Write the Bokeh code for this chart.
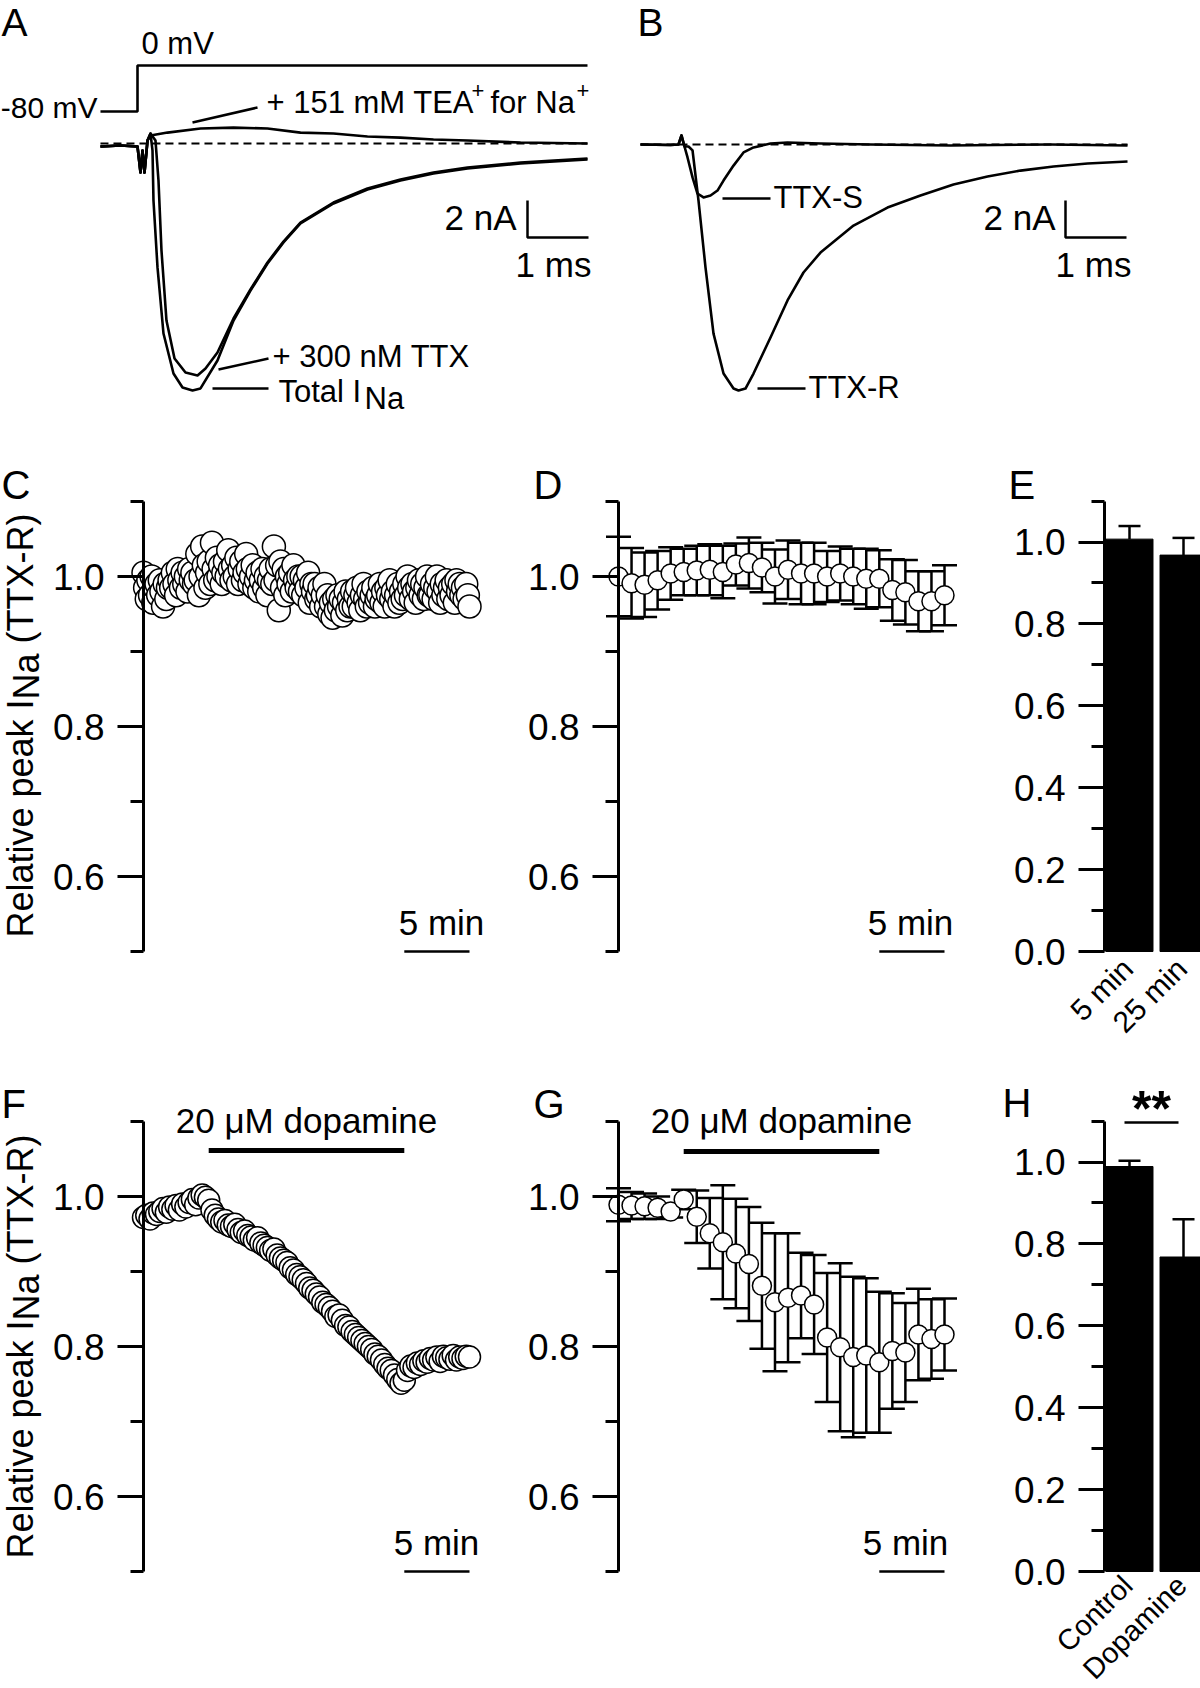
import numpy as np
from math import pi, sin, cos
from bokeh.plotting import figure
from bokeh.models import (Range1d, FixedTicker, Label, Whisker, TeeHead, LinearAxis,
                          ColumnDataSource, PrintfTickFormatter)
from bokeh.layouts import row, column
from bokeh.embed import file_html
from bokeh.resources import INLINE

FONT = "Liberation Sans"

# ---------------- data ----------------
# Panel A: currents (nA) vs time (ms) after the step to 0 mV
artifact_t = [-0.607, -0.279, 0.0, 0.049, 0.082, 0.115, 0.164]
artifact_i = [-0.16, -0.11, -0.16, -1.57, -0.38, -1.57, 0.16]
total_t = [0.213, 0.246, 0.262, 0.328, 0.426, 0.590, 0.738, 0.902, 1.033, 1.311, 1.574,
           1.852, 2.131, 2.393, 2.672, 3.213, 3.770, 4.311, 4.852, 5.410, 6.279, 7.377]
total_i = [0.54, -0.38, -3.08, -6.70, -10.27, -12.43, -13.19, -13.35, -13.24, -11.73, -9.57,
           -7.95, -6.49, -5.35, -4.32, -3.24, -2.49, -2.00, -1.62, -1.35, -1.08, -0.86]
ttx_t = [0.213, 0.295, 0.344, 0.393, 0.475, 0.607, 0.787, 0.984, 1.115, 1.311, 1.574,
         1.852, 2.131, 2.393, 2.672, 3.213, 3.770, 4.311, 4.852, 5.410, 6.279, 7.377]
ttx_i = [0.54, 0.16, -2.00, -5.78, -9.57, -11.62, -12.38, -12.54, -12.16, -11.30, -9.46,
         -7.89, -6.43, -5.30, -4.27, -3.19, -2.43, -1.95, -1.57, -1.30, -1.03, -0.81]
tea_t = [0.213, 0.492, 1.033, 1.574, 2.131, 2.672, 3.213, 3.770, 4.311, 4.852, 5.410, 6.279, 7.377]
tea_i = [0.43, 0.59, 0.81, 0.86, 0.81, 0.59, 0.54, 0.38, 0.32, 0.22, 0.16, 0.05, 0.0]
step_t = [-0.607, 0.0, 0.0, 7.377]
step_mv = [-80, -80, 0, 0]

# Panel B: TTX-S and TTX-R components
b_start_t = [-0.623, -0.131, 0.0, 0.049, 0.098]
b_start_i = [0.0, -0.03, 0.0, 0.49, -0.11]
ttxs_t = [0.148, 0.230, 0.311, 0.410, 0.525, 0.639, 0.738, 0.902, 1.066, 1.230, 1.508,
          1.787, 2.328, 3.148, 4.459, 6.098, 7.361]
ttxs_i = [-0.70, -1.78, -2.65, -2.86, -2.76, -2.49, -1.95, -1.14, -0.43, -0.16, 0.05,
          0.11, 0.05, 0.0, -0.05, 0.0, -0.05]
ttxr_t = [0.164, 0.230, 0.328, 0.443, 0.574, 0.738, 0.902, 0.984, 1.098, 1.230, 1.508,
          1.787, 2.049, 2.328, 2.869, 3.426, 3.967, 4.508, 5.066, 5.607, 6.148, 6.705, 7.361]
ttxr_i = [-0.11, -0.32, -3.03, -6.65, -10.22, -12.38, -13.19, -13.30, -13.19, -12.38, -10.43,
          -8.43, -6.92, -5.84, -4.38, -3.41, -2.76, -2.16, -1.73, -1.41, -1.19, -1.03, -0.92]

# Panel C: single cell, relative peak INa every 7.5 s
c_time = np.arange(201) * 0.125
c_rel = [1.005, 0.985, 0.970, 0.995, 0.975, 1.000, 0.965, 0.985,
         0.990, 0.975, 0.995, 0.980, 0.960, 0.990, 0.970, 0.985,
         0.995, 0.985, 1.005, 0.990, 0.975, 1.010, 0.995, 0.985,
         1.005, 0.990, 1.000, 0.980, 1.010, 0.995, 1.005, 0.990,
         0.995, 1.030, 0.975, 1.000, 1.040, 1.015, 0.985, 1.005,
         1.020, 0.990, 1.045, 1.010, 0.995, 1.025, 1.000, 1.015,
         0.990, 1.005, 1.020, 1.000, 1.035, 1.010, 0.995, 1.015,
         1.000, 1.025, 0.990, 1.010, 1.020, 0.995, 1.005, 1.030,
         1.010, 0.990, 1.000, 1.015, 0.985, 0.995, 1.005, 0.980,
         0.995, 1.010, 0.985, 1.000, 0.975, 0.995, 1.010, 0.990,
         1.040, 0.995, 1.015, 0.955, 1.020, 0.985, 1.010, 0.975,
         1.000, 0.990, 1.005, 0.980, 1.015, 0.995, 0.985, 1.000,
         0.980, 1.000, 0.975, 0.995, 0.985, 1.005, 0.965, 0.990,
         0.980, 0.990, 0.970, 0.975, 0.985, 0.960, 0.975, 0.990,
         0.960, 0.975, 0.950, 0.965, 0.945, 0.970, 0.955, 0.975,
         0.960, 0.970, 0.948, 0.965, 0.980, 0.955, 0.970, 0.960,
         0.980, 0.960, 0.975, 0.985, 0.965, 0.955, 0.975, 0.990,
         0.970, 0.960, 0.980, 0.965, 0.975, 0.985, 0.960, 0.970,
         0.975, 0.990, 0.965, 0.980, 0.960, 0.985, 0.975, 0.995,
         0.970, 0.980, 0.960, 0.975, 0.990, 0.965, 0.980, 0.970,
         0.990, 0.975, 1.000, 0.985, 0.970, 0.990, 0.980, 0.965,
         0.985, 0.995, 0.975, 0.990, 0.970, 0.985, 1.000, 0.975,
         0.975, 0.990, 0.970, 0.985, 1.000, 0.980, 0.965, 0.990,
         0.975, 0.985, 0.995, 0.970, 0.985, 0.975, 0.990, 0.965,
         0.995, 0.980, 0.990, 0.975, 0.985, 0.970, 0.990, 0.975,
         0.960]

# Panel D: mean +/- SEM every minute
d_time = list(range(26))
d_mean = [1.000, 0.991, 0.989, 0.995, 1.004, 1.006, 1.008, 1.009, 1.006, 1.016, 1.018, 1.012, 1.000,
          1.009, 1.004, 1.004, 1.000, 1.004, 1.000, 0.997, 0.997, 0.982, 0.979, 0.967, 0.967, 0.975]
d_sem = [0.053, 0.047, 0.043, 0.039, 0.035, 0.031, 0.033, 0.034, 0.035, 0.028, 0.034, 0.033, 0.036,
         0.039, 0.041, 0.041, 0.034, 0.036, 0.037, 0.040, 0.038, 0.041, 0.043, 0.040, 0.040, 0.040]

# Panel E
e_labels = ["5 min", "25 min"]
e_mean = [1.007, 0.968]
e_sem = [0.032, 0.042]

# Panel F: single cell with dopamine
f_time = np.arange(101) * 0.25
f_rel = [0.972, 0.975, 0.970, 0.978, 0.976,
         0.980, 0.984, 0.979, 0.986,
         0.983, 0.988, 0.982, 0.990,
         0.986, 0.992, 0.996, 0.989,
         0.998, 1.002, 0.999, 0.995,
         0.982, 0.975, 0.970, 0.966,
         0.968, 0.962, 0.960, 0.963,
         0.956, 0.952, 0.954, 0.948,
         0.946, 0.942, 0.945, 0.938,
         0.935, 0.932, 0.928, 0.930,
         0.922, 0.918, 0.915, 0.912,
         0.905, 0.902, 0.896, 0.893,
         0.889, 0.884, 0.878, 0.875,
         0.870, 0.866, 0.859, 0.856,
         0.852, 0.847, 0.840, 0.842,
         0.835, 0.828, 0.826, 0.820,
         0.816, 0.812, 0.808, 0.804,
         0.800, 0.796, 0.790, 0.787,
         0.782, 0.776, 0.771, 0.768,
         0.762, 0.756, 0.751, 0.755,
         0.768, 0.774, 0.772, 0.778,
         0.776, 0.781, 0.779, 0.784,
         0.782, 0.786, 0.780, 0.787,
         0.785, 0.783, 0.788, 0.782,
         0.786, 0.784, 0.787, 0.786]
dopamine_on = [5, 20]

# Panel G
g_time = list(range(26))
g_mean = [0.989, 0.988, 0.987, 0.985, 0.980, 0.996, 0.973, 0.951, 0.939, 0.924, 0.910, 0.881, 0.859,
          0.865, 0.868, 0.856, 0.812, 0.799, 0.786, 0.788, 0.779, 0.794, 0.792, 0.816, 0.810, 0.816]
g_sem = [0.022, 0.018, 0.017, 0.015, 0.008, 0.013, 0.035, 0.047, 0.076, 0.073, 0.076, 0.084, 0.092,
         0.086, 0.057, 0.066, 0.086, 0.112, 0.107, 0.103, 0.094, 0.077, 0.066, 0.061, 0.053, 0.048]

# Panel H
h_labels = ["Control", "Dopamine"]
h_mean = [0.989, 0.768]
h_sem = [0.014, 0.092]

RT_MAJ = [0.6, 0.8, 1.0]
RT_MIN = [0.5, 0.7, 0.9, 1.1]
BAR_MAJ = [0.0, 0.2, 0.4, 0.6, 0.8, 1.0]
BAR_MIN = [0.1, 0.3, 0.5, 0.7, 0.9, 1.1]

# ---------------- helpers ----------------
def mapper(rx0, ux0, sx, ry0, uy0, sy):
    return (lambda rx: ux0 + (rx - rx0) / sx), (lambda ry: uy0 + (ry0 - ry) / sy)


def make_fig(canvas, mx, my):
    cx0, cy0, cx1, cy1 = canvas
    p = figure(width=cx1 - cx0, height=cy1 - cy0, title=None,
               x_range=Range1d(mx(cx0), mx(cx1)), y_range=Range1d(my(cy1), my(cy0)),
               min_border_left=0, min_border_right=0, min_border_top=0, min_border_bottom=0,
               x_axis_type=None, y_axis_type=None,
               toolbar_location=None, tools="", output_backend="svg")
    p.outline_line_color = None
    p.background_fill_color = "white"
    p.border_fill_color = "white"
    p._mx, p._my = mx, my
    return p


def add_y(p, x_at, major, minor, lo, hi):
    ax = LinearAxis(fixed_location=x_at, ticker=FixedTicker(ticks=major, minor_ticks=minor),
                    bounds=(lo, hi), formatter=PrintfTickFormatter(format="%.1f"))
    ax.axis_line_width = 3
    ax.axis_line_color = "black"
    ax.major_tick_line_width = 3
    ax.minor_tick_line_width = 3
    ax.major_tick_line_color = "black"
    ax.minor_tick_line_color = "black"
    ax.major_tick_in = 0
    ax.major_tick_out = 26
    ax.minor_tick_in = 0
    ax.minor_tick_out = 13
    ax.major_label_standoff = 13
    ax.major_label_text_font = FONT
    ax.major_label_text_font_size = "37px"
    ax.major_label_text_color = "black"
    p.add_layout(ax, "left")


def tpx(p, rx, ry, s, size=30, align="left", angle=0.0, style="normal",
        baseline="alphabetic"):
    # rx, ry: pixel position in the page; baseline correction for the renderer
    if baseline == "alphabetic":
        d = 0.37 * size
        rx, ry = rx - d * sin(angle), ry - d * cos(angle)
    p.add_layout(Label(x=p._mx(rx), y=p._my(ry), text=s, text_font=FONT,
                       text_font_size=f"{size}px", text_align=align,
                       text_baseline=baseline, angle=angle,
                       text_font_style=style, text_color="black"))


def pline(p, pts, width=2.5):
    p.line([p._mx(a) for a, _ in pts], [p._my(b) for _, b in pts], line_width=width,
           line_color="black")


def ylabel(p, rcenter, size=36):
    w1 = 6.614 * size
    w2 = 1.278 * size
    w3 = 3.888 * size
    y0 = rcenter + (w1 + w2 + w3) / 2
    tpx(p, 33, y0, "Relative peak I", size, angle=pi / 2)
    tpx(p, 39, y0 - w1, "Na", size, angle=pi / 2)
    tpx(p, 33, y0 - w1 - w2 - 0.278 * size, "(TTX-R)", size, angle=pi / 2)


def trace(p, t, i):
    p.line(t, i, line_color="black", line_width=2.6, line_join="round")


def circles(p, t, v, size):
    p.scatter(t, v, marker="circle", size=size, fill_color="white", line_color="black",
              line_width=1.5)


def errs(p, t, m, s):
    src = ColumnDataSource(dict(t=t, lo=[a - b for a, b in zip(m, s)],
                                hi=[a + b for a, b in zip(m, s)]))
    p.add_layout(Whisker(source=src, base="t", upper="hi", lower="lo", line_width=2.5,
                         line_color="black", level="underlay",
                         upper_head=TeeHead(size=25, line_width=2.5, line_color="black"),
                         lower_head=TeeHead(size=25, line_width=2.5, line_color="black")))


def scalebar(p, y):
    p.line([20, 25], [y, y], line_color="black", line_width=2.5)


def bars(p, mean, sem):
    p.vbar(x=[1, 2], top=mean, width=0.87, fill_color="black", line_color="black")
    src = ColumnDataSource(dict(x=[1, 2], lo=mean, hi=[a + b for a, b in zip(mean, sem)]))
    p.add_layout(Whisker(source=src, base="x", upper="hi", lower="lo", line_width=2.5,
                         line_color="black", lower_head=None,
                         upper_head=TeeHead(size=22, line_width=2.5, line_color="black")))

# ---------------- Panel A ----------------
ax_, ay_ = mapper(137, 0, 61, 143, 0, 18.5)
vy_ = lambda ry: (65 - ry) / 0.575
pA = make_fig((0, 0, 600, 425), ax_, ay_)
pA.extra_y_ranges = {"mv": Range1d(vy_(425), vy_(0))}
pA.line(step_t, step_mv, y_range_name="mv", line_color="black", line_width=2.6)
pA.line([step_t[0], step_t[-1]], [0, 0], line_color="black", line_width=2, line_dash="8 5")
trace(pA, artifact_t + tea_t, artifact_i + tea_i)
trace(pA, artifact_t + ttx_t, artifact_i + ttx_i)
trace(pA, artifact_t + total_t, artifact_i + total_i)
tpx(pA, 1, 36, "A", 39)
tpx(pA, 141, 54, "0 mV", 31)
tpx(pA, 97, 118, "-80 mV", 30, align="right")
tpx(pA, 266, 113, "+ 151 mM TEA", 31)
tpx(pA, 471, 98, "+", 22)
tpx(pA, 490, 113, "for Na", 31)
tpx(pA, 576, 98, "+", 22)
pline(pA, [(192, 122), (257, 107)])
tpx(pA, 272, 367, "+ 300 nM TTX", 31)
pline(pA, [(218, 369), (268, 358)])
tpx(pA, 278, 402, "Total I", 31)
tpx(pA, 364, 409, "Na", 31)
pline(pA, [(212, 388), (268, 388)])
sbt, sbi = ax_(527), ay_(237)
pA.line([sbt, sbt, sbt + 1], [sbi + 2, sbi, sbi], line_color="black", line_width=2.5)
tpx(pA, 516, 230, "2 nA", 35, align="right")
tpx(pA, 553, 277, "1 ms", 35, align="center")

# ---------------- Panel B ----------------
bx_, by_ = mapper(678, 0, 61, 144, 0, 18.5)
pB = make_fig((600, 0, 1200, 425), bx_, by_)
pB.line([b_start_t[0], ttxr_t[-1]], [0, 0], line_color="black", line_width=2, line_dash="8 5")
trace(pB, b_start_t + ttxs_t, b_start_i + ttxs_i)
trace(pB, b_start_t + ttxr_t, b_start_i + ttxr_i)
tpx(pB, 637, 36, "B", 39)
tpx(pB, 773, 208, "TTX-S", 31)
pline(pB, [(722, 198), (770, 198)])
tpx(pB, 808, 398, "TTX-R", 31)
pline(pB, [(757, 388), (805, 388)])
sbt, sbi = bx_(1065), by_(237)
pB.line([sbt, sbt, sbt + 1], [sbi + 2, sbi, sbi], line_color="black", line_width=2.5)
tpx(pB, 1055, 230, "2 nA", 35, align="right")
tpx(pB, 1093, 277, "1 ms", 35, align="center")

# ---------------- Panel C ----------------
cx_, cy_ = mapper(143, 0, 13.04, 576, 1.0, 750)
pC = make_fig((0, 425, 500, 1040), cx_, cy_)
add_y(pC, 0, RT_MAJ, RT_MIN, 0.5, 1.1)
circles(pC, c_time, c_rel, 23)
scalebar(pC, 0.5)
tpx(pC, 441, 935, "5 min", 35, align="center")
tpx(pC, 1, 499, "C", 40)
ylabel(pC, 725)

# ---------------- Panel D ----------------
dx_, dy_ = mapper(618, 0, 13.04, 576, 1.0, 750)
pD = make_fig((500, 425, 985, 1040), dx_, dy_)
add_y(pD, 0, RT_MAJ, RT_MIN, 0.5, 1.1)
errs(pD, d_time, d_mean, d_sem)
circles(pD, d_time, d_mean, 19)
scalebar(pD, 0.5)
tpx(pD, 910, 935, "5 min", 35, align="center")
tpx(pD, 533, 499, "D", 40)

# ---------------- Panel E ----------------
ex_, ey_ = mapper(1129, 1, 54, 951, 0, 409.5)
pE = make_fig((985, 425, 1200, 1040), ex_, ey_)
add_y(pE, ex_(1104), BAR_MAJ, BAR_MIN, 0.0, 1.1)
bars(pE, e_mean, e_sem)
for k, lab in enumerate(e_labels):
    tpx(pE, 1127 + 54 * k, 963, lab, 30, align="right", baseline="middle", angle=pi / 4)
tpx(pE, 1008, 499, "E", 40)

# ---------------- Panel F ----------------
fx_, fy_ = mapper(143, 0, 13.04, 1196, 1.0, 750)
pF = make_fig((0, 1040, 500, 1686), fx_, fy_)
add_y(pF, 0, RT_MAJ, RT_MIN, 0.5, 1.1)
circles(pF, f_time, f_rel, 22)
pF.line(dopamine_on, [fy_(1150)] * 2, line_color="black", line_width=5)
tpx(pF, 143 + 13.04 * sum(dopamine_on) / 2, 1133, "20 \u03bcM dopamine", 35, align="center")
scalebar(pF, 0.5)
tpx(pF, 436, 1555, "5 min", 35, align="center")
tpx(pF, 1, 1118, "F", 40)
ylabel(pF, 1346)

# ---------------- Panel G ----------------
gx_, gy_ = mapper(618, 0, 13.04, 1196, 1.0, 750)
pG = make_fig((500, 1040, 985, 1686), gx_, gy_)
add_y(pG, 0, RT_MAJ, RT_MIN, 0.5, 1.1)
errs(pG, g_time, g_mean, g_sem)
circles(pG, g_time, g_mean, 19)
pG.line(dopamine_on, [gy_(1151)] * 2, line_color="black", line_width=5)
tpx(pG, 618 + 13.04 * sum(dopamine_on) / 2, 1133, "20 \u03bcM dopamine", 35, align="center")
scalebar(pG, 0.5)
tpx(pG, 905, 1555, "5 min", 35, align="center")
tpx(pG, 533, 1118, "G", 40)

# ---------------- Panel H ----------------
hx_, hy_ = mapper(1129, 1, 54, 1571, 0, 409.5)
pH = make_fig((985, 1040, 1200, 1686), hx_, hy_)
add_y(pH, hx_(1104), BAR_MAJ, BAR_MIN, 0.0, 1.1)
bars(pH, h_mean, h_sem)
pline(pH, [(1124, 1122), (1178, 1122)])
tpx(pH, 1151, 1127, "**", 50, align="center", style="bold")
for k, lab in enumerate(h_labels):
    tpx(pH, 1127 + 54 * k, 1580, lab, 29, align="right", baseline="middle", angle=pi / 4)
tpx(pH, 1002, 1117, "H", 40)

layout = column(row(pA, pB), row(pC, pD, pE), row(pF, pG, pH))
open("out.html", "w").write(file_html(layout, INLINE))
